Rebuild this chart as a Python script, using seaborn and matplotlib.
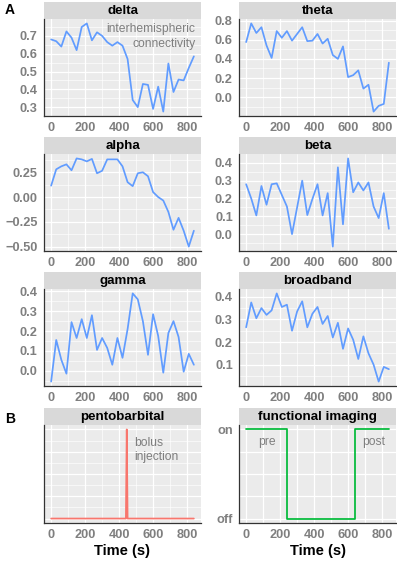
import numpy as np
import pandas as pd
import matplotlib
matplotlib.use("Agg")
import matplotlib.pyplot as plt
import seaborn as sns
from matplotlib.ticker import FixedLocator

# ---- data ----
time_s = list(range(0, 841, 30))

delta = [0.68, 0.67, 0.64, 0.725, 0.69, 0.62, 0.75, 0.77, 0.675, 0.72,
         0.70, 0.665, 0.645, 0.665, 0.645, 0.57, 0.34, 0.30, 0.43, 0.425,
         0.29, 0.415, 0.275, 0.545, 0.385, 0.455, 0.45, 0.52, 0.585]
theta = [0.575, 0.77, 0.67, 0.73, 0.54, 0.41, 0.69, 0.62, 0.69, 0.59,
         0.66, 0.73, 0.585, 0.59, 0.66, 0.56, 0.61, 0.44, 0.40, 0.53,
         0.21, 0.23, 0.28, 0.09, 0.13, -0.15, -0.09, -0.07, 0.36]
alpha = [0.115, 0.28, 0.31, 0.33, 0.27, 0.39, 0.38, 0.36, 0.385, 0.24,
         0.265, 0.38, 0.38, 0.38, 0.31, 0.15, 0.11, 0.24, 0.25, 0.21,
         0.05, 0.0, -0.035, -0.15, -0.33, -0.21, -0.34, -0.50, -0.34]
beta = [0.28, 0.20, 0.105, 0.27, 0.165, 0.28, 0.285, 0.22, 0.155, 0.0,
        0.15, 0.30, 0.107, 0.197, 0.28, 0.105, 0.23, -0.07, 0.375, 0.055,
        0.425, 0.235, 0.29, 0.245, 0.29, 0.155, 0.09, 0.23, 0.03]
gamma = [-0.055, 0.155, 0.055, -0.015, 0.245, 0.165, 0.26, 0.165, 0.28, 0.105,
         0.165, 0.115, 0.03, 0.165, 0.065, 0.21, 0.39, 0.36, 0.25, 0.08,
         0.285, 0.175, -0.01, 0.19, 0.25, 0.17, -0.005, 0.085, 0.03]
broadband = [0.265, 0.375, 0.305, 0.35, 0.32, 0.34, 0.415, 0.355, 0.365, 0.25,
             0.335, 0.38, 0.265, 0.325, 0.355, 0.28, 0.315, 0.22, 0.285, 0.17,
             0.26, 0.21, 0.125, 0.225, 0.15, 0.10, 0.025, 0.09, 0.08]

pento_time = [0, 440, 445, 450, 840]
pento_level = [0, 0, 1, 0, 0]

imaging_time = [0, 240, 240, 640, 640, 840]
imaging_state = [1, 1, 0, 0, 1, 1]

band_names = ["delta", "theta", "alpha", "beta", "gamma", "broadband"]
band_values = [delta, theta, alpha, beta, gamma, broadband]
band_yticks = [
    [0.3, 0.4, 0.5, 0.6, 0.7],
    [0.0, 0.2, 0.4, 0.6, 0.8],
    [-0.50, -0.25, 0.00, 0.25],
    [0.0, 0.1, 0.2, 0.3, 0.4],
    [0.0, 0.1, 0.2, 0.3, 0.4],
    [0.1, 0.2, 0.3, 0.4],
]
band_fmt = ["{:.1f}", "{:.1f}", "{:.2f}", "{:.1f}", "{:.1f}", "{:.1f}"]
x_ticks = [0, 200, 400, 600, 800]

# ---- style ----
sns.set_theme(style="darkgrid", rc={
    "axes.facecolor": "#EBEBEB",
    "grid.color": "white",
})
plt.rcParams["font.family"] = ["Liberation Sans", "DejaVu Sans"]

W, H = 397, 563
fig = plt.figure(figsize=(W / 100, H / 100), dpi=100)
fig.patch.set_facecolor("white")

TICK_GRAY = "#7F7F7F"
LINE_BLUE = "#619CFF"
STRIP_H = 17
TICK_SIZE = 9.2
NOTE_SIZE = 8.7


def to_fig(left, top, width, height):
    return [left / W, 1 - (top + height) / H, width / W, height / H]


def expand(lo, hi, frac=0.05):
    pad = (hi - lo) * frac
    return lo - pad, hi + pad


def make_panel(left, top, width, bottom, title):
    strip = fig.add_axes(to_fig(left, top, width, STRIP_H))
    strip.set_facecolor("#D9D9D9")
    strip.set_xticks([])
    strip.set_yticks([])
    strip.grid(False)
    for s in strip.spines.values():
        s.set_visible(False)
    strip.text(0.5, 0.47, title, ha="center", va="center", fontsize=9.6,
               fontweight="bold", color="black", transform=strip.transAxes)

    ax = fig.add_axes(to_fig(left, top + STRIP_H, width, bottom - top - STRIP_H))
    for side in ["top", "right"]:
        ax.spines[side].set_visible(False)
    for side in ["left", "bottom"]:
        ax.spines[side].set_visible(True)
        ax.spines[side].set_color("#333333")
        ax.spines[side].set_linewidth(0.9)
    ax.set_xlim(*expand(0, 840))
    ax.xaxis.set_major_locator(FixedLocator(x_ticks))
    ax.xaxis.set_minor_locator(FixedLocator([100, 300, 500, 700]))
    ax.grid(which="major", color="white", linewidth=0.9)
    ax.grid(which="minor", color="white", linewidth=0.45)
    return ax


def finish(ax):
    ax.tick_params(axis="both", which="major", length=3, width=0.7,
                   color="#333333", pad=1.5)
    ax.tick_params(axis="both", which="minor", length=0)
    for lab in ax.get_xticklabels() + ax.get_yticklabels():
        lab.set_fontweight("bold")
        lab.set_color(TICK_GRAY)
        lab.set_fontsize(TICK_SIZE)


cols = [44, 239]
col_w = 157
rows = [(2, 116), (137, 251), (272, 386)]

for i, (name, vals) in enumerate(zip(band_names, band_values)):
    r, c = divmod(i, 2)
    top, bottom = rows[r]
    ax = make_panel(cols[c], top, col_w, bottom, name)
    df = pd.DataFrame({"time": time_s, "value": vals})
    sns.lineplot(data=df, x="time", y="value", ax=ax, color=LINE_BLUE,
                 linewidth=1.25)
    ax.set_xlabel("")
    ax.set_ylabel("")
    ax.set_ylim(*expand(min(vals), max(vals)))
    yt = band_yticks[i]
    ax.yaxis.set_major_locator(FixedLocator(yt))
    step = yt[1] - yt[0]
    ax.yaxis.set_minor_locator(FixedLocator([v + step / 2 for v in [yt[0] - step] + yt]))
    ax.set_yticklabels([band_fmt[i].format(v).replace("-", "\u2212") for v in yt])
    ax.set_xticklabels([str(t) for t in x_ticks])
    finish(ax)

    if name == "delta":
        ax.text(0.965, 0.955, "interhemispheric\nconnectivity", ha="right",
                va="top", fontsize=NOTE_SIZE, color=TICK_GRAY, linespacing=1.3,
                transform=ax.transAxes)

# ---- panel B ----
top_b, bottom_b = 408, 523

ax_p = make_panel(cols[0], top_b, col_w, bottom_b, "pentobarbital")
sns.lineplot(x=pento_time, y=pento_level, ax=ax_p, color="#F8766D",
             linewidth=1.25, estimator=None, sort=False)
ax_p.set_ylim(*expand(0, 1))
ax_p.yaxis.set_major_locator(FixedLocator([0, 0.25, 0.5, 0.75, 1.0]))
ax_p.yaxis.set_minor_locator(FixedLocator([0.125, 0.375, 0.625, 0.875]))
ax_p.set_xticklabels([str(t) for t in x_ticks])
ax_p.set_xlabel("Time (s)", fontsize=10.5, fontweight="bold", color="black",
                labelpad=2)
ax_p.set_ylabel("")
finish(ax_p)
ax_p.tick_params(axis="y", which="major", length=0, labelleft=False)
ax_p.text(490, 0.92, "bolus\ninjection", ha="left", va="top", fontsize=NOTE_SIZE,
          color=TICK_GRAY, linespacing=1.3)

ax_f = make_panel(cols[1], top_b, col_w, bottom_b, "functional imaging")
sns.lineplot(x=imaging_time, y=imaging_state, ax=ax_f, color="#00BA38",
             linewidth=1.25, estimator=None, sort=False)
ax_f.set_ylim(*expand(0, 1))
ax_f.yaxis.set_major_locator(FixedLocator([0, 1]))
ax_f.yaxis.set_minor_locator(FixedLocator([0.25, 0.5, 0.75]))
ax_f.set_yticklabels(["off", "on"])
ax_f.set_xticklabels([str(t) for t in x_ticks])
ax_f.grid(which="minor", color="white", linewidth=0.9)
ax_f.set_xlabel("Time (s)", fontsize=10.5, fontweight="bold", color="black",
                labelpad=2)
ax_f.set_ylabel("")
finish(ax_f)
ax_f.text(120, 0.86, "pre", ha="center", va="center", fontsize=NOTE_SIZE,
          color=TICK_GRAY)
ax_f.text(748, 0.86, "post", ha="center", va="center", fontsize=NOTE_SIZE,
          color=TICK_GRAY)

# panel letters
fig.text(10 / W, 1 - 10 / H, "A", ha="center", va="center", fontsize=10,
         fontweight="bold", color="black")
fig.text(10 / W, 1 - 419 / H, "B", ha="center", va="center", fontsize=10,
         fontweight="bold", color="black")

fig.savefig("out.png", dpi=100, facecolor="white")
